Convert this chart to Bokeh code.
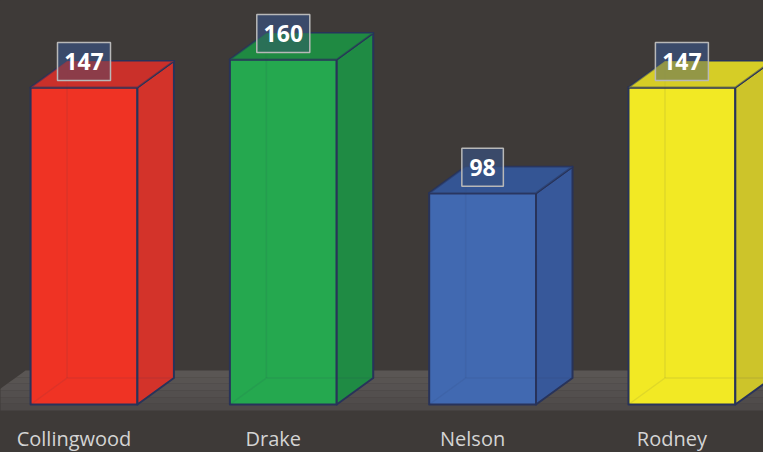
from bokeh.plotting import figure
from bokeh.models import ColumnDataSource, GlobalInlineStyleSheet
from bokeh.core.properties import value
from bokeh.embed import file_html
from bokeh.resources import INLINE

# ---- data ----
categories = ["Collingwood", "Drake", "Nelson", "Rodney"]
values = [147, 160, 98, 147]
value_labels = ["147", "160", "98", "147"]
front_colors = ["#ef3324", "#25a84f", "#4169b1", "#f2e924"]
side_colors = ["#d3332a", "#1f8b44", "#37589a", "#cdc42a"]
top_colors = ["#ca302a", "#1f8a42", "#345594", "#d6cd26"]

# ---- style / geometry constants ----
BG = "#3e3a38"
W, H = 763, 452
PX_PER_UNIT = 317 / 147.0      # vertical pixels per value unit
PX_PER_SLOT = 199.3            # horizontal pixels per category slot
HW = 0.268                     # half width of bar front (slot units)
DX = 36.5 / PX_PER_SLOT        # depth offset x
DY = 26.5 / PX_PER_UNIT        # depth offset y (value units)
OUTLINE = "#28335a"

x0 = (0 - 83.5) / PX_PER_SLOT
x1 = (W - 83.5) / PX_PER_SLOT
y1 = 404 / PX_PER_UNIT
y0 = -(H - 404) / PX_PER_UNIT

p = figure(width=W, height=H, x_range=(x0, x1), y_range=(y0, y1),
           output_backend="svg", toolbar_location=None, min_border=0)
p.axis.visible = False
p.grid.visible = False
p.outline_line_color = None
p.background_fill_color = BG
p.border_fill_color = BG
p.stylesheets = [GlobalInlineStyleSheet(
    css="html, body {margin:0; padding:0; background:%s; overflow:hidden;}" % BG)]

# ---- floor (parallelogram with slight gradient) ----
floor_front = -6 / PX_PER_UNIT
floor_back = 34 / PX_PER_UNIT
floor_left_back = (25 - 83.5) / PX_PER_SLOT
slope = DX / DY
floor_shades = ["#5a5654", "#585452", "#565251", "#534f4e", "#504c4b", "#4d4948"]
n = len(floor_shades)
fxs, fys = [], []
for k in range(n):
    ya = floor_back - (floor_back - floor_front) * k / n
    yb = floor_back - (floor_back - floor_front) * (k + 1) / n
    xa = floor_left_back - (floor_back - ya) * slope
    xb = floor_left_back - (floor_back - yb) * slope
    fxs.append([xa, x1 + 1, x1 + 1, xb])
    fys.append([ya, ya, yb, yb])
p.patches(fxs, fys, fill_color=floor_shades, line_color=None)

# ---- bars ----
idx = list(range(len(categories)))
front_x, front_y, side_x, side_y, top_x, top_y = [], [], [], [], [], []
hid_x, hid_y = [], []
for i, v in zip(idx, values):
    l, r = i - HW, i + HW
    front_x.append([l, r, r, l]); front_y.append([0, 0, v, v])
    side_x.append([r, r + DX, r + DX, r]); side_y.append([0, DY, v + DY, v])
    top_x.append([l, r, r + DX, l + DX]); top_y.append([v, v, v + DY, v + DY])
    # faint hidden back edges (translucent look)
    hid_x.append([l, l + DX, r + DX]); hid_y.append([0, DY, DY])
    hid_x.append([l + DX, l + DX]); hid_y.append([DY, v + DY])

src = ColumnDataSource(dict(fx=front_x, fy=front_y, sx=side_x, sy=side_y,
                            tx=top_x, ty=top_y, fc=front_colors,
                            sc=side_colors, tc=top_colors))
p.patches("fx", "fy", source=src, fill_color="fc",
          line_color=OUTLINE, line_width=2, line_join="round")
p.patches("sx", "sy", source=src, fill_color="sc",
          line_color=OUTLINE, line_width=2, line_join="round")
p.patches("tx", "ty", source=src, fill_color="tc",
          line_color=OUTLINE, line_width=2, line_join="round")
p.multi_line(hid_x, hid_y, line_color=OUTLINE, line_alpha=0.09, line_width=1.5)

# ---- value labels ----
box_y = [v + 26 / PX_PER_UNIT for v in values]
box_w = [11.5 * len(s) + 18.5 for s in value_labels]
lab = ColumnDataSource(dict(x=idx, y=box_y, w=box_w, t=value_labels))
p.rect("x", "y", width="w", height=38, width_units="screen", height_units="screen",
       source=lab, fill_color="#3a4d73", fill_alpha=0.85, line_color=None)
# bar tops show through the lower part of the label boxes
p.patches("tx", "ty", source=src, fill_color="tc", fill_alpha=0.5, line_color=None)
p.rect("x", "y", width="w", height=38, width_units="screen", height_units="screen",
       source=lab, fill_alpha=0, line_color="#b8b8b8", line_width=1.5)
p.text("x", "y", text="t", source=lab, text_color="white",
       text_font=value("Open Sans"), text_font_style="bold",
       text_font_size="23px", text_align="center", text_baseline="middle")

# ---- category labels ----
cat_x = [i - 10 / PX_PER_SLOT for i in idx]
cat_y = [-34 / PX_PER_UNIT] * len(idx)
p.text(cat_x, cat_y, text=categories, text_color="#d4d4d4",
       text_font=value("Open Sans"), text_font_size="20px",
       text_align="center", text_baseline="middle")

open("out.html", "w").write(file_html(p, INLINE))
